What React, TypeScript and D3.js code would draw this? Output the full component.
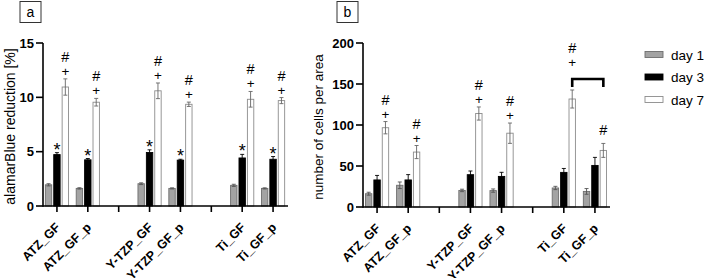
import React from "react";
import * as d3 from "d3";

const categories = ["ATZ_GF", "ATZ_GF_p", "Y-TZP_GF", "Y-TZP_GF_p", "Ti_GF", "Ti_GF_p"];
const xSlots = ["ATZ_GF", "ATZ_GF_p", "gap1", "Y-TZP_GF", "Y-TZP_GF_p", "gap2", "Ti_GF", "Ti_GF_p"];
const seriesNames = ["day 1", "day 3", "day 7"];

const aDay1 = [1.95, 1.62, 2.05, 1.62, 1.9, 1.62];
const aDay1Err = [0.1, 0.06, 0.08, 0.05, 0.1, 0.05];
const aDay3 = [4.73, 4.25, 4.92, 4.22, 4.42, 4.3];
const aDay3Err = [0.18, 0.12, 0.25, 0.08, 0.33, 0.25];
const aDay7 = [10.95, 9.55, 10.6, 9.36, 9.82, 9.7];
const aDay7Err = [0.75, 0.35, 0.72, 0.2, 0.72, 0.28];
const aTicks = [0, 5, 10, 15];

const bDay1 = [16.2, 26.5, 20.2, 20, 23.2, 19];
const bDay1Err = [1.8, 4, 1.5, 2, 2, 3.5];
const bDay3 = [33, 33, 39.4, 37.3, 42.2, 50.7];
const bDay3Err = [5.5, 6.5, 4.5, 5, 4.8, 9.8];
const bDay7 = [96.7, 67, 114, 90, 131.7, 69];
const bDay7Err = [7.5, 8, 8, 12.4, 11, 8.5];
const bTicks = [0, 50, 100, 150, 200];

// significance marks per category
const aStar = ["*", "*", "*", "*", "*", "*"];
const aDay7Marks = ["+#", "+#", "+#", "+#", "+#", "+#"];
const bDay7Marks = ["+#", "+#", "+#", "+#", "+#", "#"];

const FONT = "'Liberation Sans', Arial, sans-serif";
const fills = ["#a3a3a3", "#000000", "#ffffff"];
const strokes = ["#6e6e6e", "#000000", "#8c8c8c"];
const errColors = ["#555555", "#000000", "#666666"];

type PanelProps = {
  letter: string;
  x0: number;
  x1: number;
  yTop: number;
  yBot: number;
  max: number;
  ticks: number[];
  title: string;
  titleX: number;
  titleSize: number;
  boxX: number;
  vals: number[][];
  errs: number[][];
  starMarks?: string[];
  day7Marks: string[];
  bracket?: [number, number];
};

function Panel(p: PanelProps) {
  const xb = d3.scaleBand<string>().domain(xSlots).range([p.x0 - 1.5, p.x1 + 0.5]);
  const y = d3.scaleLinear().domain([0, p.max]).range([p.yBot, p.yTop]);
  const barW = 6.4;
  const step = 8.4;
  const els: React.ReactNode[] = [];
  const errTop: number[][] = [[], [], []];

  categories.forEach((c, i) => {
    const cx = (xb(c) as number) + xb.bandwidth() / 2;
    for (let s = 0; s < 3; s++) {
      const v = p.vals[s][i];
      const e = p.errs[s][i];
      const bx = cx + (s - 1) * step;
      const yt = y(v);
      const ye = y(v + e);
      errTop[s][i] = ye;
      els.push(
        <rect key={`b${s}${i}`} x={bx - barW / 2} y={yt} width={barW} height={p.yBot - yt}
          fill={fills[s]} stroke={strokes[s]} strokeWidth={0.9} />
      );
      els.push(
        <g key={`e${s}${i}`} stroke={errColors[s]} strokeWidth={0.9}>
          <line x1={bx} x2={bx} y1={y(v - e)} y2={ye} />
          <line x1={bx - 2} x2={bx + 2} y1={ye} y2={ye} />
          <line x1={bx - 2} x2={bx + 2} y1={y(v - e)} y2={y(v - e)} />
        </g>
      );
    }
    if (p.starMarks && p.starMarks[i]) {
      els.push(
        <text key={`s${i}`} x={cx} y={errTop[1][i] + 3} textAnchor="middle"
          fontSize={18} fontFamily={FONT}>*</text>
      );
    }
  });

  let bracketY = 0;
  if (p.bracket) {
    const [i0, i1] = p.bracket;
    const xa = (xb(categories[i0]) as number) + xb.bandwidth() / 2 + step;
    const xc = (xb(categories[i1]) as number) + xb.bandwidth() / 2 + step;
    bracketY = Math.min(errTop[2][i0], errTop[2][i1]) - 11;
    els.push(
      <path key="br" d={`M${xa},${bracketY + 8}V${bracketY}H${xc}V${bracketY + 8}`}
        fill="none" stroke="#000" strokeWidth={2.6} />
    );
  }

  categories.forEach((c, i) => {
    const cx = (xb(c) as number) + xb.bandwidth() / 2 + step;
    const m = p.day7Marks[i];
    let base = errTop[2][i];
    if (p.bracket && (i === p.bracket[0])) base = bracketY - 9;
    if (m === "+#") {
      els.push(
        <text key={`p${i}`} x={cx} y={base - 3} textAnchor="middle" fontSize={13.5} fontFamily={FONT}>+</text>
      );
      els.push(
        <text key={`h${i}`} x={cx} y={base - 17} textAnchor="middle" fontSize={14.5} fontFamily={FONT}>#</text>
      );
    } else if (m === "#") {
      els.push(
        <text key={`h${i}`} x={cx} y={base - 8} textAnchor="middle" fontSize={14.5} fontFamily={FONT}>#</text>
      );
    }
  });

  return (
    <g>
      <rect x={p.boxX} y={1.5} width={21} height={21} fill="#fff" stroke="#333" strokeWidth={1} />
      <text x={p.boxX + 10.5} y={17} textAnchor="middle" fontSize={14} fontFamily={FONT}>{p.letter}</text>
      <text transform={`translate(${p.titleX},${(p.yTop + p.yBot) / 2 + 2}) rotate(-90)`}
        textAnchor="middle" fontSize={p.titleSize} fontFamily={FONT}>{p.title}</text>
      {els}
      <line x1={p.x0} x2={p.x1} y1={p.yBot} y2={p.yBot} stroke="#000" strokeWidth={1.6} />
      <line x1={p.x0} x2={p.x0} y1={p.yTop} y2={p.yBot + 0.8} stroke="#000" strokeWidth={1.6} />
      {p.ticks.map((t) => (
        <g key={`t${t}`}>
          <line x1={p.x0 - 7} x2={p.x0} y1={y(t)} y2={y(t)} stroke="#000" strokeWidth={1.6} />
          <text x={p.x0 - 9} y={y(t) + 4.5} textAnchor="end" fontSize={13} fontWeight="bold" fontFamily={FONT}>{t}</text>
        </g>
      ))}
      {xSlots.map((s) => {
        const cx = (xb(s) as number) + xb.bandwidth() / 2;
        return <line key={`xt${s}`} x1={cx} x2={cx} y1={p.yBot} y2={p.yBot + 6} stroke="#000" strokeWidth={1.6} />;
      })}
      {categories.map((c) => {
        const cx = (xb(c) as number) + xb.bandwidth() / 2;
        return (
          <text key={`xl${c}`} transform={`translate(${cx + 4},${p.yBot + 22}) rotate(-45)`}
            textAnchor="end" fontSize={12.5} fontWeight="bold" fontFamily={FONT}>{c}</text>
        );
      })}
    </g>
  );
}

export default function App() {
  return (
    <svg width={709} height={278} style={{ position: "absolute", left: 0, top: 0, background: "#fff" }}>
      <rect x={0} y={0} width={709} height={278} fill="#fff" />
      <Panel letter="a" x0={43} x1={288} yTop={43} yBot={206} max={15} ticks={aTicks}
        title="alamarBlue reduction [%]" titleX={15} titleSize={14} boxX={20}
        vals={[aDay1, aDay3, aDay7]} errs={[aDay1Err, aDay3Err, aDay7Err]}
        starMarks={aStar} day7Marks={aDay7Marks} />
      <Panel letter="b" x0={363} x1={610} yTop={43} yBot={207} max={200} ticks={bTicks}
        title="number of cells per area" titleX={323} titleSize={13.5} boxX={337}
        vals={[bDay1, bDay3, bDay7]} errs={[bDay1Err, bDay3Err, bDay7Err]}
        day7Marks={bDay7Marks} bracket={[4, 5]} />
      {seriesNames.map((n, i) => (
        <g key={n}>
          <rect x={645} y={51.5 + i * 22.5} width={18} height={6} fill={fills[i]} stroke={strokes[i]} strokeWidth={0.9} />
          <text x={671} y={59.5 + i * 22.5} fontSize={13.5} fontFamily={FONT}>{n}</text>
        </g>
      ))}
    </svg>
  );
}
